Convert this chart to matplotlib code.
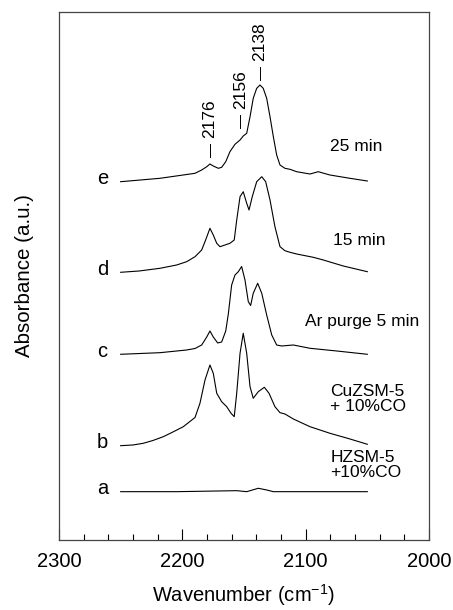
import numpy as np
import matplotlib
matplotlib.use('Agg')
import matplotlib.pyplot as plt
from matplotlib.ticker import MultipleLocator

plt.rcParams['font.family'] = ['Liberation Sans', 'DejaVu Sans']
plt.rcParams['mathtext.fontset'] = 'custom'
plt.rcParams['mathtext.rm'] = 'Liberation Sans'
plt.rcParams['mathtext.it'] = 'Liberation Sans'

# Spectra (wavenumber cm-1, absorbance a.u. incl. offset)
wn_e = [2250, 2218.1, 2189.7, 2184.3, 2180.2, 2177.6, 2174.9, 2170.8, 2168.1, 2164.8, 2161.4,
        2157.3, 2153.2, 2150.6, 2147.8, 2145.1, 2142.5, 2139.7, 2137.0, 2134.4, 2131.6, 2128.9,
        2126.2, 2123.5, 2120.8, 2116.8, 2112.7, 2107.3, 2096.5, 2089.8, 2080.3, 2064.1, 2050]
abs_e = [3.583, 3.617, 3.667, 3.70, 3.733, 3.76, 3.74, 3.717, 3.727, 3.783, 3.883,
         3.957, 4.00, 4.04, 4.067, 4.233, 4.417, 4.517, 4.55, 4.517, 4.417, 4.233,
         4.033, 3.85, 3.75, 3.717, 3.707, 3.683, 3.66, 3.683, 3.65, 3.617, 3.59]

wn_d = [2250, 2235, 2218.1, 2204.6, 2196.5, 2189.7, 2184.3, 2181.1, 2177.6, 2174.9, 2172.1,
        2169.5, 2165.4, 2161.4, 2157.9, 2155.9, 2153.2, 2150.6, 2147.8, 2145.9, 2143.3, 2139.7,
        2135.6, 2132.4, 2128.9, 2124.9, 2120.8, 2116.8, 2112.7, 2107.3, 2093.8, 2085.7, 2069.5, 2050]
abs_d = [2.677, 2.69, 2.717, 2.75, 2.783, 2.833, 2.90, 3.00, 3.117, 3.05, 2.967,
         2.933, 2.95, 2.967, 3.00, 3.20, 3.433, 3.483, 3.367, 3.30, 3.433, 3.583,
         3.633, 3.583, 3.40, 3.133, 2.933, 2.893, 2.877, 2.86, 2.827, 2.80, 2.74, 2.683]

wn_c = [2250, 2218.1, 2196.5, 2189.7, 2184.3, 2180.2, 2177.6, 2174.9, 2171.3, 2168.1, 2164.8,
        2162.7, 2160.0, 2157.3, 2154.6, 2151.9, 2149.2, 2146.5, 2144.6, 2142.5, 2138.9, 2135.6,
        2131.6, 2127.5, 2123.5, 2119.4, 2110, 2096.5, 2074.8, 2050]
abs_c = [1.857, 1.873, 1.90, 1.915, 1.95, 2.03, 2.09, 2.03, 1.97, 1.98, 2.09,
         2.26, 2.55, 2.65, 2.683, 2.735, 2.60, 2.383, 2.345, 2.467, 2.567, 2.467,
         2.25, 2.05, 1.95, 1.94, 1.95, 1.917, 1.89, 1.857]

wn_b = [2250, 2240, 2231.6, 2223.8, 2215.4, 2207.6, 2199.2, 2189.7, 2185.7, 2181.6, 2177.6,
        2174.9, 2172.1, 2168.1, 2164.0, 2160.5, 2157.9, 2155.9, 2153.2, 2150.6, 2147.8, 2145.1,
        2142.5, 2138.4, 2133.5, 2129.7, 2124.9, 2120.8, 2116.8, 2110, 2096.5, 2080.3, 2064.1, 2050]
abs_b = [0.943, 0.95, 0.967, 0.995, 1.033, 1.08, 1.133, 1.225, 1.367, 1.60, 1.75,
         1.667, 1.467, 1.383, 1.333, 1.267, 1.233, 1.467, 1.867, 2.067, 1.867, 1.533,
         1.417, 1.483, 1.527, 1.467, 1.333, 1.273, 1.26, 1.21, 1.133, 1.067, 1.01, 0.957]

wn_a = [2250, 2204.6, 2155.9, 2147.8, 2138.4, 2131.6, 2126.2, 2050]
abs_a = [0.483, 0.483, 0.493, 0.483, 0.517, 0.50, 0.483, 0.483]

curves = [(wn_a, abs_a), (wn_b, abs_b), (wn_c, abs_c), (wn_d, abs_d), (wn_e, abs_e)]
letters = ['a', 'b', 'c', 'd', 'e']
conditions = ['HZSM-5\n+10%CO', 'CuZSM-5\n+ 10%CO', 'Ar purge 5 min', '15 min', '25 min']

peak_labels = ['2176', '2156', '2138']
peak_pos = [2177.5, 2153, 2137]

fig = plt.figure(figsize=(4.53, 6.10), dpi=100)
ax = fig.add_axes([0.1302, 0.1148, 0.8168, 0.8655])

for wn, ab in curves:
    ax.plot(wn, ab, color='black', lw=0.8)

ax.set_xlim(2300, 2000)
ax.set_ylim(0, 5.28)

# letters at the left end of each spectrum
for (wn, ab), lt in zip(curves, letters):
    ax.text(wn[0] + 14.7, ab[0] - 0.025, lt, fontsize=14.5, ha='center', va='baseline')

# condition labels on the right
ax.text(2080, 0.745, conditions[0], fontsize=12.5, ha='left', va='center', linespacing=1.0)
ax.text(2080, 1.41, conditions[1], fontsize=12.5, ha='left', va='center', linespacing=1.0)
ax.text(2054, 2.18, conditions[2], fontsize=12.5, ha='center', va='center')
ax.text(2056.7, 2.99, conditions[3], fontsize=12.5, ha='center', va='center')
ax.text(2059, 3.94, conditions[4], fontsize=12.5, ha='center', va='center')

# peak position markers above spectrum e
peak_y = [3.83, 4.12, 4.60]
for lab, x, y in zip(peak_labels, peak_pos, peak_y):
    ax.plot([x, x], [y, y + 0.13], color='black', lw=0.7)
    ax.text(x, y + 0.19, lab, rotation=90, fontsize=12.5, ha='center', va='bottom')

ax.xaxis.set_major_locator(MultipleLocator(100))
ax.xaxis.set_minor_locator(MultipleLocator(20))
ax.tick_params(axis='x', which='major', direction='in', length=8, width=0.8, labelsize=14.5, pad=9)
ax.tick_params(axis='x', which='minor', direction='in', length=4, width=0.8)
ax.set_yticks([])
for s in ax.spines.values():
    s.set_linewidth(0.9)
    s.set_color('#444444')

ax.set_xlabel('Wavenumber (cm$^{-1}$)', fontsize=14.5, labelpad=8)
ax.set_ylabel('Absorbance (a.u.)', fontsize=14.8, labelpad=18)

plt.savefig('out.png', dpi=100)
